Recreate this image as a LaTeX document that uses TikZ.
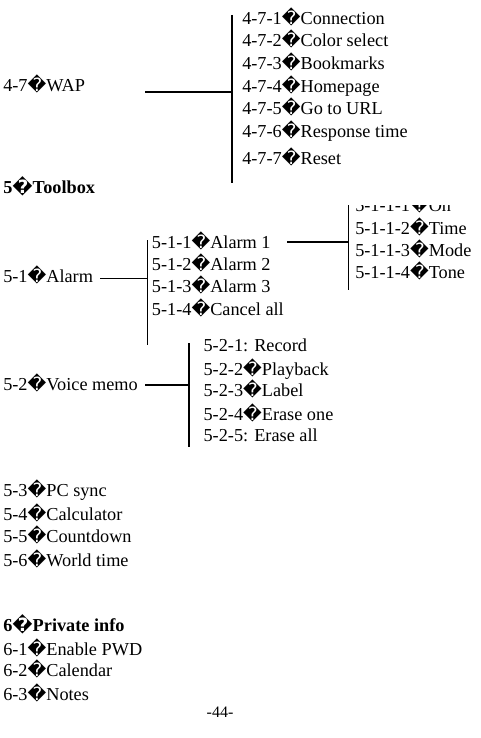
\documentclass[tikz,border=0pt]{standalone}
\usepackage{fontspec}
\setmainfont{Liberation Serif}
\newfontfamily\repfont{DejaVu Sans}
\newcommand{\badch}{{\repfont\symbol{"FFFD}}}

\begin{document}
\begin{tikzpicture}[x=0.75pt, y=-0.75pt, line cap=butt,
	item/.style={anchor=base west, inner sep=0pt, font=\fontsize{13.7}{16}\selectfont},
	heavyline/.style={line width=1.5pt},
	thinline/.style={line width=0.8pt}]
	\useasboundingbox (0,0) rectangle (481,738);
	% WAP
	\node[item] (wap) at (3,91.7) {4-7\badch WAP};
	\node[item] (w1) at (242,24.3) {4-7-1\badch Connection};
	\node[item] (w2) at (242,46.7) {4-7-2\badch Color select};
	\node[item] (w3) at (242,69.3) {4-7-3\badch Bookmarks};
	\node[item] (w4) at (242,92.7) {4-7-4\badch Homepage};
	\node[item] (w5) at (242,115) {4-7-5\badch Go to URL};
	\node[item] (w6) at (242,137.7) {4-7-6\badch Response time};
	\node[item] (w7) at (242,165) {4-7-7\badch Reset};
	\coordinate (wapL) at (145,91.7);
	\coordinate (wapT) at (232,15);
	\coordinate (wapB) at (232,183);
	\draw[heavyline] (wapL) -- (wapT |- wapL);
	\draw[heavyline] (wapT) -- (wapB);
	% toolbox
	\node[item, font=\fontsize{13.7}{16}\selectfont\bfseries] (tools) at (3,193) {5\badch Toolbox};
	% alarm
	\node[item] (alarm) at (3,282) {5-1\badch Alarm};
	\node[item] (a1) at (151.7,248) {5-1-1\badch Alarm 1};
	\node[item] (a2) at (151.7,270) {5-1-2\badch Alarm 2};
	\node[item] (a3) at (151.7,292) {5-1-3\badch Alarm 3};
	\node[item] (a4) at (151.7,315) {5-1-4\badch Cancel all};
	\coordinate (alarmL) at (100,278.3);
	\coordinate (alarmT) at (147.7,240);
	\coordinate (alarmB) at (147.7,345);
	\draw[thinline] (alarmL) -- (alarmT |- alarmL);
	\draw[thinline] (alarmT) -- (alarmB);
	% alarm 1 settings
	\begin{scope}
		\clip (340,205) rectangle (481,300);
		\node[item] (t1) at (355,211) {5-1-1-1\badch On};
		\node[item] (t2) at (355,234) {5-1-1-2\badch Time};
		\node[item] (t3) at (355,256) {5-1-1-3\badch Mode};
		\node[item] (t4) at (355,278) {5-1-1-4\badch Tone};
		\coordinate (setT) at (348.3,205);
		\coordinate (setB) at (348.3,290);
		\draw[thinline] (setT) -- (setB);
	\end{scope}
	\coordinate (a1R) at (287,241.7);
	\draw[heavyline] (a1R) -- (setT |- a1R);
	% voice memo
	\node[item] (voice) at (3,390) {5-2\badch Voice memo};
	\node[item] (v1) at (203.3,351.7) {5-2-1: Record};
	\node[item] (v2) at (203.3,375) {5-2-2\badch Playback};
	\node[item] (v3) at (203.3,396.7) {5-2-3\badch Label};
	\node[item] (v4) at (203.3,420) {5-2-4\badch Erase one};
	\node[item] (v5) at (203.3,441.7) {5-2-5: Erase all};
	\coordinate (voiceL) at (145,385);
	\coordinate (voiceT) at (189,343.3);
	\coordinate (voiceB) at (189,446.7);
	\draw[heavyline] (voiceL) -- (voiceT |- voiceL);
	\draw[heavyline] (voiceT) -- (voiceB);
	% other tools
	\node[item] (pc) at (3,496.7) {5-3\badch PC sync};
	\node[item] (calc) at (3,520) {5-4\badch Calculator};
	\node[item] (count) at (3,542.7) {5-5\badch Countdown};
	\node[item] (world) at (3,566) {5-6\badch World time};
	% private info
	\node[item, font=\fontsize{13.7}{16}\selectfont\bfseries] (priv) at (3,631.7) {6\badch Private info};
	\node[item] (pwd) at (3,655) {6-1\badch Enable PWD};
	\node[item] (cal) at (3,676.7) {6-2\badch Calendar};
	\node[item] (notes) at (3,700) {6-3\badch Notes};
	% page number
	\node[anchor=base, inner sep=0pt, font=\fontsize{12}{14}\selectfont] (page) at (220,717) {-44-};
\end{tikzpicture}
\end{document}
